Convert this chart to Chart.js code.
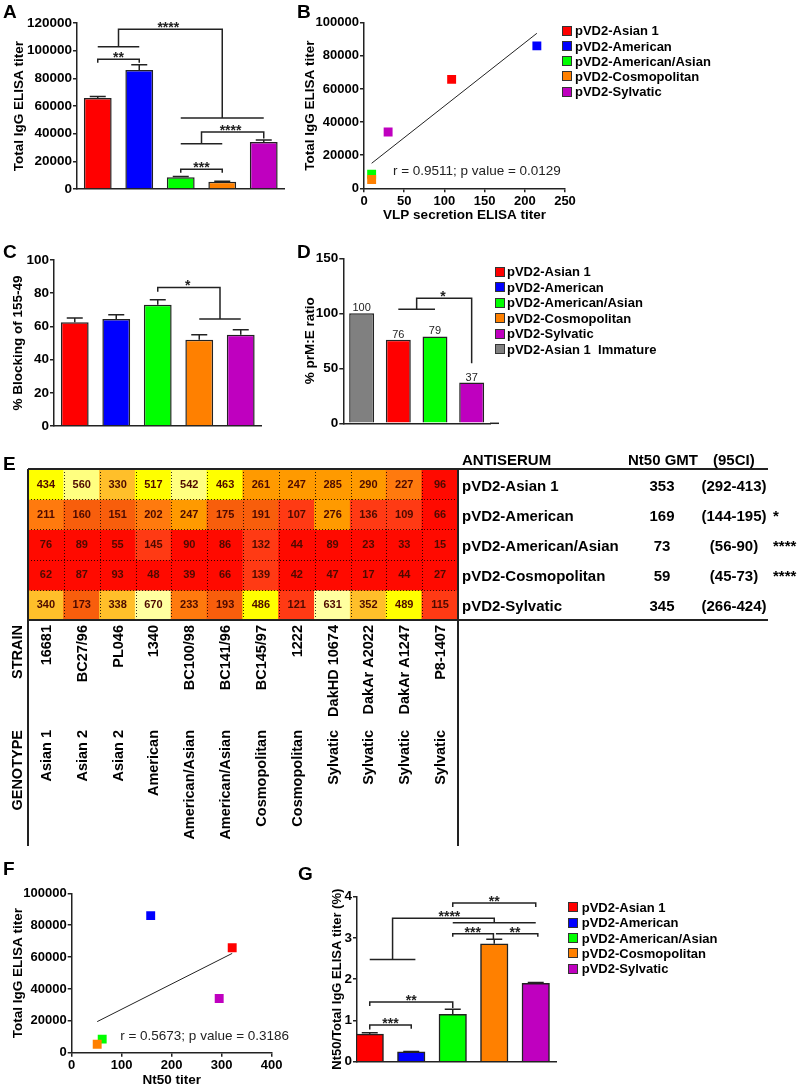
<!DOCTYPE html>
<html>
<head>
<meta charset="utf-8">
<title>pVD2 antisera panels</title>
<script src="https://cdn.jsdelivr.net/npm/chart.js@4.4.1/dist/chart.umd.min.js"></script>
<style>
  body { margin: 0; background: #fff; }
  #page { position: relative; width: 800px; height: 1086px; overflow: hidden; font-family: Arial, "Liberation Sans", sans-serif; color: #000; }
  #page canvas { position: absolute; left: 0; top: 0; }
  .txt { position: absolute; white-space: pre; font-weight: bold; }
  .letter { font-size: 19px; line-height: 19px; }
  .leg { font-size: 13px; line-height: 15px; }
  .tab { font-size: 15px; line-height: 30px; }
  .sq { position: absolute; width: 8px; height: 8px; border: 1px solid #333; }
</style>
</head>
<body>
<div id="page">
  <canvas id="chartA" width="800" height="1086"></canvas>
  <canvas id="chartB" width="800" height="1086"></canvas>
  <canvas id="chartC" width="800" height="1086"></canvas>
  <canvas id="chartD" width="800" height="1086"></canvas>
  <canvas id="chartE" width="800" height="1086"></canvas>
  <canvas id="chartF" width="800" height="1086"></canvas>
  <canvas id="chartG" width="800" height="1086"></canvas>
</div>
<script>
// ---- data ----
const antisera = ['pVD2-Asian 1', 'pVD2-American', 'pVD2-American/Asian', 'pVD2-Cosmopolitan', 'pVD2-Sylvatic'];
const igTiter = [65800, 86000, 8500, 5300, 34000];
const igTiterErr = [1000, 3800, 500, 300, 1400];
const vlpTiter = [109, 215, 9.5, 9.5, 30];
const fitB_x = [9.5, 215];
const fitB_y = [15100, 93600];
const blocking = [62.5, 64.5, 73, 52, 55];
const blockingErr = [2.5, 2.5, 3, 3, 3];
const prmLabels = ['pVD2-Asian 1 Immature', 'pVD2-Asian 1', 'pVD2-American/Asian', 'pVD2-Sylvatic'];
const prmRatio = [100, 76, 79, 37];
const heatStrains = ['16681', 'BC27/96', 'PL046', '1340', 'BC100/98', 'BC141/96', 'BC145/97', '1222', 'DakHD 10674', 'DakAr A2022', 'DakAr A1247', 'P8-1407'];
const heatGenotypes = ['Asian 1', 'Asian 2', 'Asian 2', 'American', 'American/Asian', 'American/Asian', 'Cosmopolitan', 'Cosmopolitan', 'Sylvatic', 'Sylvatic', 'Sylvatic', 'Sylvatic'];
const nt50Cells = [
  [434, 560, 330, 517, 542, 463, 261, 247, 285, 290, 227, 96],
  [211, 160, 151, 202, 247, 175, 191, 107, 276, 136, 109, 66],
  [76, 89, 55, 145, 90, 86, 132, 44, 89, 23, 33, 15],
  [62, 87, 93, 48, 39, 66, 139, 42, 47, 17, 44, 27],
  [340, 173, 338, 670, 233, 193, 486, 121, 631, 352, 489, 115]
];
const gmt = [353, 169, 73, 59, 345];
const gmtCI = ['(292-413)', '(144-195)', '(56-90)', '(45-73)', '(266-424)'];
const gmtSig = ['', '*', '****', '****', ''];
const nt50Titer = [321, 158, 61, 51, 295];
const fitF_x = [51, 321];
const fitF_y = [19500, 62300];
const ratio = [0.67, 0.24, 1.15, 2.86, 1.9];
const ratioErr = [0.03, 0.01, 0.12, 0.11, 0.02];

// ---- styles ----
const serumColors = ['#ff0000', '#0000ff', '#00ff00', '#ff8000', '#bf00bf'];
const prmColors = ['#808080', '#ff0000', '#00ff00', '#bf00bf'];
const ink = '#222';
const FONT = 'Arial, "Liberation Sans", Helvetica, sans-serif';
const W = 800, H = 1086;

Chart.defaults.font.family = FONT;
Chart.defaults.color = '#000';

function heatColor(v) {
  if (v >= 600) return '#ffffa0';
  if (v >= 540) return '#ffff80';
  if (v >= 430) return '#ffff00';
  if (v >= 320) return '#ffbf2a';
  if (v >= 240) return '#ff9a00';
  if (v >= 195) return '#ff7a0e';
  if (v >= 150) return '#f85e0c';
  if (v >= 100) return '#ff3a14';
  return '#ff0a00';
}

const yOf = d => (typeof d === 'object' ? d.y : d);

// annotations: error bars, significance brackets, value labels, notes
function marks(cfg) {
  return {
    id: 'marks',
    afterDatasetsDraw(chart) {
      const ctx = chart.ctx, xs = chart.scales.x, ys = chart.scales.y, a = chart.chartArea;
      const px = v => xs.getPixelForValue(v), py = v => ys.getPixelForValue(v);
      const vals = chart.data.datasets[0].data.map(yOf);
      ctx.save();
      ctx.strokeStyle = ink;
      ctx.fillStyle = ink;
      ctx.lineWidth = 1.5;
      if (cfg.errors) {
        chart.getDatasetMeta(0).data.forEach((bar, i) => {
          const top = py(vals[i] + cfg.errors[i]);
          ctx.beginPath();
          ctx.moveTo(bar.x, bar.y);
          ctx.lineTo(bar.x, top);
          ctx.moveTo(bar.x - 8, top);
          ctx.lineTo(bar.x + 8, top);
          ctx.stroke();
        });
      }
      (cfg.brackets || []).forEach(path => {
        ctx.beginPath();
        path.forEach(([x, y], k) => k ? ctx.lineTo(px(x), py(y)) : ctx.moveTo(px(x), py(y)));
        ctx.stroke();
      });
      if (cfg.extendX) {
        ctx.beginPath();
        ctx.moveTo(a.right, a.bottom);
        ctx.lineTo(a.right + cfg.extendX, a.bottom);
        ctx.stroke();
      }
      ctx.font = 'bold 14px ' + FONT;
      ctx.textAlign = 'center';
      ctx.textBaseline = 'alphabetic';
      (cfg.stars || []).forEach(([x, y, t]) => ctx.fillText(t, px(x), py(y) + 3));
      if (cfg.valueLabels) {
        ctx.font = '11px ' + FONT;
        chart.getDatasetMeta(0).data.forEach((bar, i) => ctx.fillText(String(vals[i]), bar.x, bar.y - 2));
      }
      ctx.textAlign = 'left';
      ctx.textBaseline = 'middle';
      ctx.font = '13.5px ' + FONT;
      (cfg.notes || []).forEach(([x, y, t]) => ctx.fillText(t, px(x), py(y)));
      ctx.restore();
    }
  };
}

function baseOpts(area) {
  return {
    responsive: false,
    animation: false,
    devicePixelRatio: 1,
    layout: { padding: { left: 0, top: area.t, right: W - area.r, bottom: 0 } },
    plugins: { legend: { display: false }, tooltip: { enabled: false } }
  };
}

function axisY(area, min, max, step, title, titleCx, tickSize, titleSize) {
  const ts = titleSize || 13.5;
  return {
    type: 'linear', min, max,
    afterFit: s => { s.width = area.l; },
    ticks: { stepSize: step, padding: 1, color: '#000', font: { size: tickSize, weight: 'bold' }, callback: v => String(v) },
    grid: { drawOnChartArea: false, tickLength: 4, color: ink, lineWidth: 1.5 },
    border: { color: ink, width: 1.5 },
    title: { display: true, text: title, color: '#000', font: { size: ts, weight: 'bold' }, padding: { top: titleCx - ts * 0.6, bottom: 0 } }
  };
}

function axisXBars(area, range) {
  const ax = {
    type: range ? 'linear' : 'category',
    afterFit: s => { s.height = H - area.b; },
    ticks: { display: false },
    grid: { display: false },
    border: { color: ink, width: 1.5 }
  };
  if (range) {
    ax.min = range[0];
    ax.max = range[1];
    ax.offset = false;
  }
  return ax;
}

function axisXLin(area, min, max, step, title, titleCy, tickSize) {
  return {
    type: 'linear', min, max,
    afterFit: s => { s.height = H - area.b; },
    ticks: { stepSize: step, padding: 1, color: '#000', font: { size: tickSize, weight: 'bold' }, callback: v => String(v) },
    grid: { drawOnChartArea: false, tickLength: 4, color: ink, lineWidth: 1.5 },
    border: { color: ink, width: 1.5 },
    title: { display: true, text: title, color: '#000', font: { size: 13.5, weight: 'bold' }, padding: { top: 0, bottom: H - titleCy - 8.1 } }
  };
}

function barChart(id, area, labels, values, colors, barPct, yAxis, cfg) {
  const opts = baseOpts(area);
  opts.scales = { x: axisXBars(area, cfg.xRange), y: yAxis };
  const ds = { data: values, backgroundColor: colors, borderColor: ink, borderWidth: 1.5, barPercentage: barPct, categoryPercentage: 1 };
  if (cfg.xRange) {
    ds.data = values.map((v, i) => ({ x: i, y: v }));
    ds.barThickness = cfg.barThickness;
  }
  return new Chart(document.getElementById(id), {
    type: 'bar',
    data: { labels, datasets: [ds] },
    options: opts,
    plugins: [marks(cfg)]
  });
}

function scatterChart(id, area, xv, yv, fx, fy, xAxis, yAxis, cfg) {
  const opts = baseOpts(area);
  opts.scales = { x: xAxis, y: yAxis };
  return new Chart(document.getElementById(id), {
    type: 'scatter',
    data: {
      datasets: [
        { data: xv.map((x, i) => ({ x, y: yv[i] })), pointStyle: 'rect', pointRadius: 6.3, pointBackgroundColor: serumColors, pointBorderWidth: 0, order: 0 },
        { type: 'line', data: fx.map((x, i) => ({ x, y: fy[i] })), borderColor: ink, borderWidth: 1, pointRadius: 0, showLine: true, fill: false, order: 1 }
      ]
    },
    options: opts,
    plugins: [marks(cfg)]
  });
}

// ---- A: total IgG ----
const areaA = { l: 77, r: 284.5, t: 23, b: 189 };
barChart('chartA', areaA, antisera, igTiter, serumColors, 0.67,
  axisY(areaA, 0, 120000, 20000, 'Total IgG ELISA titer', 19, 13.5), {
    errors: igTiterErr,
    brackets: [
      [[0, 91300], [0, 93800], [1, 93800], [1, 91300]],
      [[0, 102900], [1, 102900]],
      [[0.5, 102900], [0.5, 115400], [3, 115400], [3, 51300]],
      [[2, 51300], [4, 51300]],
      [[2.5, 32700], [2.5, 41200], [4, 41200], [4, 36500]],
      [[2, 32700], [3, 32700]],
      [[2, 11800], [2, 14300], [3, 14300], [3, 11800]]
    ],
    stars: [[0.5, 93800, '**'], [1.7, 115400, '****'], [3.2, 41200, '****'], [2.5, 14300, '***']]
  });

// ---- B: IgG vs VLP secretion ----
const areaB = { l: 364, r: 565, t: 22.7, b: 188.3 };
scatterChart('chartB', areaB, vlpTiter, igTiter, fitB_x, fitB_y,
  axisXLin(areaB, 0, 250, 50, 'VLP secretion ELISA titer', 215.7, 13),
  axisY(areaB, 0, 100000, 20000, 'Total IgG ELISA titer', 310, 13),
  { notes: [[36, 10400, 'r = 0.9511; p value = 0.0129']] });

// ---- C: % blocking ----
const areaC = { l: 54, r: 261.5, t: 260, b: 426 };
barChart('chartC', areaC, antisera, blocking, serumColors, 0.67,
  axisY(areaC, 0, 100, 20, '% Blocking of 155-49', 18.5, 13.5), {
    errors: blockingErr,
    brackets: [
      [[2, 80.9], [2, 83.5], [3.5, 83.5], [3.5, 64.5]],
      [[3, 64.5], [4, 64.5]]
    ],
    stars: [[2.72, 83.5, '*']]
  });

// ---- D: prM:E ratio ----
const areaD = { l: 343.3, r: 490, t: 258.3, b: 423.3 };
barChart('chartD', areaD, prmLabels, prmRatio, prmColors, 0.68,
  axisY(areaD, 0, 150, 50, '% prM:E ratio', 310, 13.5), {
    valueLabels: true,
    extendX: 9,
    brackets: [
      [[1, 103.6], [2, 103.6]],
      [[1.5, 103.6], [1.5, 113.6], [3, 113.6], [3, 54.5]]
    ],
    stars: [[2.22, 113.6, '*']]
  });

// ---- E: Nt50 heat map ----
const heatDeco = {
  id: 'heatDeco',
  afterDatasetsDraw(chart) {
    const ctx = chart.ctx, a = chart.chartArea, xs = chart.scales.x, ys = chart.scales.y;
    ctx.save();
    ctx.font = 'bold 11px "Liberation Sans Narrow", "Arial Narrow", ' + FONT;
    ctx.fillStyle = '#4d0a00';
    ctx.textAlign = 'center';
    ctx.textBaseline = 'middle';
    chart.data.datasets.forEach((ds, r) => {
      chart.getDatasetMeta(r).data.forEach((bar, c) => {
        ctx.fillText(String(nt50Cells[r][c]), bar.x, (bar.y + bar.base) / 2 + 0.5);
      });
    });
    ctx.strokeStyle = 'rgba(0,0,0,0.8)';
    ctx.lineWidth = 1;
    ctx.setLineDash([1, 2]);
    ctx.beginPath();
    for (let c = 1; c < heatStrains.length; c++) {
      const x = Math.round(xs.getPixelForValue(c - 0.5)) + 0.5;
      ctx.moveTo(x, a.top); ctx.lineTo(x, a.bottom);
    }
    for (let r = 1; r < antisera.length; r++) {
      const y = Math.round(ys.getPixelForValue(r)) + 0.5;
      ctx.moveTo(a.left, y); ctx.lineTo(a.right, y);
    }
    ctx.stroke();
    ctx.setLineDash([]);
    ctx.strokeStyle = ink;
    ctx.lineWidth = 2;
    ctx.beginPath();
    ctx.moveTo(a.left, a.top); ctx.lineTo(a.right + 310, a.top);
    ctx.moveTo(a.left, a.bottom); ctx.lineTo(a.right + 310, a.bottom);
    ctx.moveTo(a.left, a.top); ctx.lineTo(a.left, a.bottom + 226);
    ctx.moveTo(a.right, a.top); ctx.lineTo(a.right, a.bottom + 226);
    ctx.stroke();
    ctx.fillStyle = '#000';
    ctx.textAlign = 'right';
    ctx.textBaseline = 'middle';
    ctx.font = 'bold 14.5px ' + FONT;
    const vert = (t, x, y) => {
      ctx.save();
      ctx.translate(x, y);
      ctx.rotate(-Math.PI / 2);
      ctx.fillText(t, 0, 0);
      ctx.restore();
    };
    heatStrains.forEach((s, c) => vert(s, xs.getPixelForValue(c) + 1, a.bottom + 5));
    heatGenotypes.forEach((g, c) => vert(g, xs.getPixelForValue(c) + 1, a.bottom + 110));
    vert('STRAIN', a.left - 10, a.bottom + 5);
    vert('GENOTYPE', a.left - 10, a.bottom + 110);
    ctx.restore();
  }
};

const areaE = { l: 28, r: 458, t: 469, b: 620 };
new Chart(document.getElementById('chartE'), {
  type: 'bar',
  data: {
    labels: heatStrains,
    datasets: nt50Cells.map((row, r) => ({
      label: antisera[r],
      data: row.map(() => [r, r + 1]),
      backgroundColor: row.map(heatColor),
      borderWidth: 0,
      inflateAmount: 0.6,
      grouped: false,
      barPercentage: 1,
      categoryPercentage: 1
    }))
  },
  options: {
    responsive: false,
    animation: false,
    devicePixelRatio: 1,
    layout: { padding: { left: areaE.l, top: areaE.t, right: W - areaE.r, bottom: H - areaE.b } },
    plugins: { legend: { display: false }, tooltip: { enabled: false } },
    scales: {
      x: { display: false },
      y: { display: false, min: 0, max: 5, reverse: true }
    }
  },
  plugins: [heatDeco]
});

// ---- F: IgG vs Nt50 ----
const areaF = { l: 71.7, r: 271.7, t: 893.3, b: 1052.7 };
scatterChart('chartF', areaF, nt50Titer, igTiter, fitF_x, fitF_y,
  axisXLin(areaF, 0, 400, 100, 'Nt50 titer', 1080, 13),
  axisY(areaF, 0, 100000, 20000, 'Total IgG ELISA titer', 18, 13),
  { notes: [[97, 10000, 'r = 0.5673; p value = 0.3186']] });

// ---- G: Nt50 / IgG ratio ----
const areaG = { l: 357, r: 556.5, t: 896.7, b: 1061.7 };
barChart('chartG', areaG, antisera, ratio, serumColors, 0.67,
  axisY(areaG, 0, 4, 1, 'Nt50/Total IgG ELISA titer (%)', 337, 13.5, 13), {
    xRange: [-0.307, 4.5],
    barThickness: 27.5,
    errors: ratioErr,
    brackets: [
      [[0, 0.78], [0, 0.89], [1, 0.89], [1, 0.8]],
      [[0, 1.35], [0, 1.45], [2, 1.45], [2, 1.3]],
      [[0, 2.48], [1.1, 2.48]],
      [[0.55, 2.48], [0.55, 3.48], [3, 3.48], [3, 3.37]],
      [[2, 3.37], [4, 3.37]],
      [[2, 3.75], [2, 3.85], [4, 3.85], [4, 3.75]],
      [[2, 3.03], [2, 3.10], [2.98, 3.10], [2.98, 2.97]],
      [[3.04, 3.10], [4.05, 3.10], [4.05, 3.03]]
    ],
    stars: [[0.5, 0.89, '***'], [1, 1.45, '**'], [1.92, 3.48, '****'], [3, 3.85, '**'], [2.48, 3.10, '***'], [3.5, 3.10, '**']]
  });

// ---- text overlays ----
const page = document.getElementById('page');
function addText(cls, text, left, top, extra) {
  const d = document.createElement('div');
  d.className = 'txt ' + cls;
  d.textContent = text;
  d.style.left = left + 'px';
  d.style.top = top + 'px';
  if (extra) Object.assign(d.style, extra);
  page.appendChild(d);
  return d;
}
function addLegend(names, colors, sqLeft, textLeft, firstY, step) {
  names.forEach((n, i) => {
    const cy = firstY + i * step;
    const s = document.createElement('div');
    s.className = 'sq';
    s.style.left = sqLeft + 'px';
    s.style.top = (cy - 5) + 'px';
    s.style.background = colors[i];
    page.appendChild(s);
    addText('leg', n, textLeft, cy - 7.4);
  });
}

[['A', 3, 2.2], ['B', 297, 1.7], ['C', 3, 241.5], ['D', 297, 241.5], ['E', 3, 454], ['F', 3, 859.2], ['G', 298, 863.7]]
  .forEach(([t, x, y]) => addText('letter', t, x, y));

addLegend(antisera, serumColors, 562, 575, 30.7, 15.25);
addLegend(antisera.concat(['pVD2-Asian 1  Immature']), serumColors.concat(['#808080']), 495, 507, 271.7, 15.45);
addLegend(antisera, serumColors, 568, 581.7, 907.3, 15.35);

addText('tab', 'ANTISERUM', 462, 445);
addText('tab', 'Nt50 GMT', 628, 445);
addText('tab', '(95CI)', 713, 445);
antisera.forEach((n, i) => {
  const top = 471 + 30 * i;
  addText('tab', n, 462, top);
  addText('tab', String(gmt[i]), 632, top, { width: '60px', textAlign: 'center' });
  addText('tab', gmtCI[i], 694, top, { width: '80px', textAlign: 'center' });
  if (gmtSig[i]) addText('tab', gmtSig[i], 773, top);
});
</script>
</body>
</html>
